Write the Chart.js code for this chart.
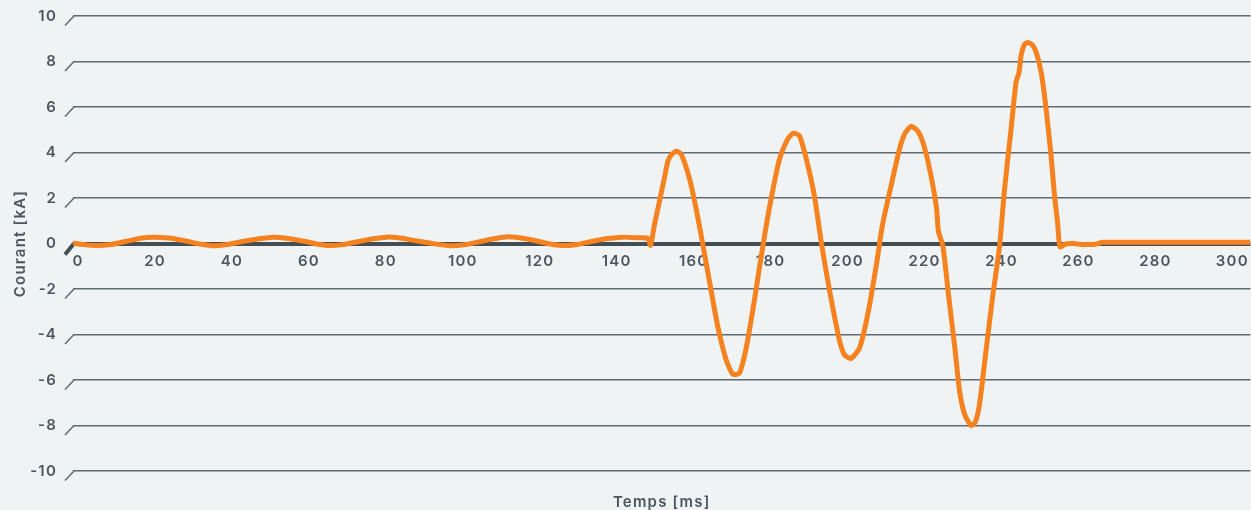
<!DOCTYPE HTML>
<html>
<head>
  <title>Courant</title>
  <meta name="viewport" content="width=device-width, initial-scale=1">
  <script src="https://cdn.jsdelivr.net/npm/chart.js"></script>
  <style>
    body { margin: 0; background: #eff3f4; }
    .wrap { width: 1251px; height: 510px; }
  </style>
</head>
<body>
  <div class="wrap"><canvas id="chart"></canvas></div>
  <script>
    // temps en ms, courant en kA
    const times = [
      0, 3, 6, 10, 14, 18, 21, 25, 29, 33, 36.5, 40, 44, 48, 52, 56, 60, 63, 66.5, 70,
      74, 78, 81.5, 85, 89, 93, 98, 102, 106, 109, 112.5, 116, 120, 123, 127, 131, 135, 139, 143, 147,
      149.4, 150.1, 151.2, 152.5, 153.8, 154.6, 155.5, 156.8, 158.1, 160.3, 162, 163.7, 165.5, 167.6, 169.8,
      171.5, 173.2, 175, 177.1, 179.3, 181.4, 183.6, 185.8, 187.2, 188.8, 190.6, 192.7, 194.5, 196.6, 199.2,
      200.5, 202.2, 204.4, 206.6, 209, 210.3, 212.4, 214.8, 216.1, 217.8, 219.5, 220.9, 222.6, 224.4, 224.9,
      226.1, 227.6, 229.2, 230.4, 231.7, 233.4, 234.5, 235.6, 237.3, 239, 240.8, 242.1, 243.8, 245.1, 245.9,
      246.4, 247.3, 248.1, 249.2, 250.3, 251.6, 252.9, 254.2, 255.1, 255.9, 256.5, 258, 260, 262, 264,
      266, 267.5, 280, 300, 306
    ];
    const current = [
      0.02, -0.05, -0.09, -0.04, 0.1, 0.24, 0.28, 0.24, 0.12, -0.02, -0.1, -0.05, 0.09, 0.2, 0.28, 0.22, 0.1, -0.01, -0.09, -0.05,
      0.08, 0.21, 0.28, 0.24, 0.12, 0.01, -0.1, -0.05, 0.09, 0.2, 0.29, 0.25, 0.13, 0.01, -0.09, -0.04, 0.1, 0.22, 0.28, 0.25,
      0.22, -0.08, 0.9, 1.92, 2.96, 3.62, 3.9, 4.05, 3.92, 2.8, 1.48, -0.05, -1.75, -3.67, -5.14,
      -5.75, -5.7, -4.56, -2.49, -0.1, 1.93, 3.7, 4.6, 4.85, 4.73, 3.7, 2.08, 0.02, -2.05, -4.26,
      -4.9, -5.05, -4.6, -3.08, -0.72, 0.75, 2.38, 4.15, 4.8, 5.15, 4.95, 4.44, 3.3, 1.6, 0.55,
      -0.13, -2.35, -4.6, -6.47, -7.5, -8.0, -7.85, -7.06, -4.7, -2.35, -0.13, 2.38, 5.03, 7.1, 7.54,
      8.27, 8.75, 8.84, 8.75, 8.42, 7.54, 5.92, 3.85, 2.08, 0.9, -0.15, -0.02, 0, -0.04, -0.04,
      -0.02, 0.05, 0.05, 0.05, 0.05
    ];
    const xTicks = [0, 20, 40, 60, 80, 100, 120, 140, 160, 180, 200, 220, 240, 260, 280, 300];
    const yTicks = [-10, -8, -6, -4, -2, 0, 2, 4, 6, 8, 10];

    const gridColor = '#5f6a71';
    const zeroColor = '#434d54';
    const textColor = '#4b5660';
    const font = { family: 'Inter', size: 15, weight: 600 };

    // petits traits obliques au debut de chaque ligne + espacement du texte
    const slashes = {
      id: 'slashes',
      beforeDraw(chart) {
        chart.ctx.letterSpacing = '1.2px';
      },
      beforeDatasetsDraw(chart) {
        const { ctx, chartArea, scales } = chart;
        ctx.save();
        yTicks.forEach(v => {
          const y = scales.y.getPixelForValue(v);
          const zero = v === 0;
          ctx.beginPath();
          ctx.strokeStyle = zero ? zeroColor : gridColor;
          ctx.lineWidth = zero ? 4 : 1.5;
          ctx.moveTo(chartArea.left - 8, y + (zero ? 11 : 9.5));
          ctx.lineTo(chartArea.left + 1, y);
          ctx.stroke();
        });
        ctx.restore();
      }
    };

    new Chart(document.getElementById('chart'), {
      type: 'line',
      data: {
        datasets: [{
          data: times.map((t, i) => ({ x: t, y: current[i] })),
          borderColor: '#f5821f',
          borderWidth: 5,
          pointRadius: 0,
          tension: 0.2
        }]
      },
      options: {
        responsive: true,
        maintainAspectRatio: false,
        animation: false,
        layout: { padding: { top: 16, right: 0, bottom: 0, left: 0 } },
        plugins: { legend: { display: false }, tooltip: { enabled: false } },
        scales: {
          x: {
            type: 'linear',
            min: 0,
            max: 306,
            ticks: { display: false },
            grid: { display: false },
            border: { display: false },
            title: { display: true, text: 'Temps [ms]', color: textColor, font, padding: { top: 0, bottom: -1 } },
            afterFit: s => { s.height = 39; }
          },
          x2: {
            type: 'linear',
            axis: 'x',
            position: { y: 0 },
            min: 0,
            max: 306,
            afterBuildTicks: s => { s.ticks = xTicks.map(v => ({ value: v })); },
            grid: { display: false, drawTicks: false },
            border: { display: false },
            ticks: {
              padding: 9,
              labelOffset: 5,
              maxRotation: 0,
              autoSkip: false,
              color: textColor,
              font
            }
          },
          y: {
            min: -10,
            max: 10,
            afterBuildTicks: s => { s.ticks = yTicks.map(v => ({ value: v })); },
            ticks: { padding: 16, color: textColor, font },
            grid: {
              drawTicks: false,
              color: c => (c.tick && c.tick.value === 0 ? zeroColor : gridColor),
              lineWidth: c => (c.tick && c.tick.value === 0 ? 4 : 1.5)
            },
            border: { display: false },
            title: { display: true, text: 'Courant [kA]', color: textColor, font, padding: { top: 11, bottom: 0 } },
            afterFit: s => { s.width = 73; s.paddingTop = 0; s.paddingBottom = 0; }
          }
        }
      },
      plugins: [slashes]
    });
  </script>
</body>
</html>
